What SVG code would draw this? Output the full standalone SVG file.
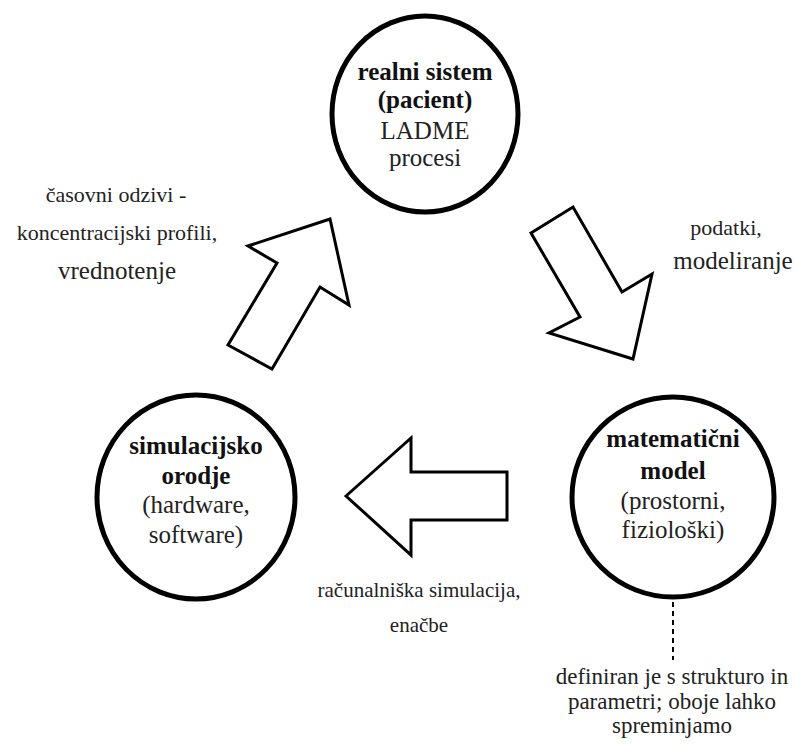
<svg xmlns="http://www.w3.org/2000/svg" width="796" height="745" viewBox="0 0 796 745">
<style>
.node{fill:#fff;stroke:#000;stroke-width:5}
.arr{fill:#fff;stroke:#000;stroke-width:3;stroke-linejoin:miter}
text{font-family:"Liberation Serif","Times New Roman",serif;fill:#222;text-anchor:middle}
.b{font-weight:bold;fill:#111}
.n{font-size:25px}
.s{font-size:22px}
.m{font-size:25px}
.d{fill:none;stroke:#000;stroke-width:2;stroke-dasharray:5,4}
</style>
<rect width="796" height="745" fill="#fff"/>
<g id="connectors">
<polygon class="arr" points="228,345 272,369 320,287 349,305 330,219 248,246 277,263"/>
<polygon class="arr" points="531,233 573,207 622,292 652,274 633,359 549,333 580,317"/>
<polygon class="arr" points="346,496 411,438 411,472 507,472 507,520 411,520 411,555"/>
<line class="d" x1="673" y1="566" x2="673" y2="660"/>
</g>
<g id="realni">
<ellipse class="node" cx="425" cy="114" rx="93" ry="98"/>
<text class="n b" x="425" y="80">realni sistem</text>
<text class="n b" x="425" y="108">(pacient)</text>
<text class="n" x="425" y="139">LADME</text>
<text class="n" x="425" y="166">procesi</text>
</g>
<g id="simulacijsko">
<ellipse class="node" cx="196" cy="497" rx="99" ry="102"/>
<text class="n b" x="196" y="454">simulacijsko</text>
<text class="n b" x="196" y="484">orodje</text>
<text class="n" x="196" y="513">(hardware,</text>
<text class="n" x="196" y="543">software)</text>
</g>
<g id="matematicni">
<ellipse class="node" cx="673" cy="497" rx="101" ry="100"/>
<text class="n b" x="673" y="447">matematični</text>
<text class="n b" x="673" y="479">model</text>
<text class="n" x="673" y="509">(prostorni,</text>
<text class="n" x="673" y="538">fiziološki)</text>
</g>
<g id="labels">
<text class="s" x="116" y="202">časovni odzivi -</text>
<text class="s" x="117" y="240">koncentracijski profili,</text>
<text class="m" x="117" y="279">vrednotenje</text>
<text class="s" x="726" y="235">podatki,</text>
<text class="m" x="733" y="269">modeliranje</text>
<text style="font-size:21px" x="419" y="597">računalniška simulacija,</text>
<text style="font-size:21px" x="419" y="632">enačbe</text>
<text style="font-size:23px" x="672" y="684">definiran je s strukturo in</text>
<text style="font-size:23px" x="672" y="709">parametri; oboje lahko</text>
<text style="font-size:23px" x="672" y="733">spreminjamo</text>
</g>
</svg>
